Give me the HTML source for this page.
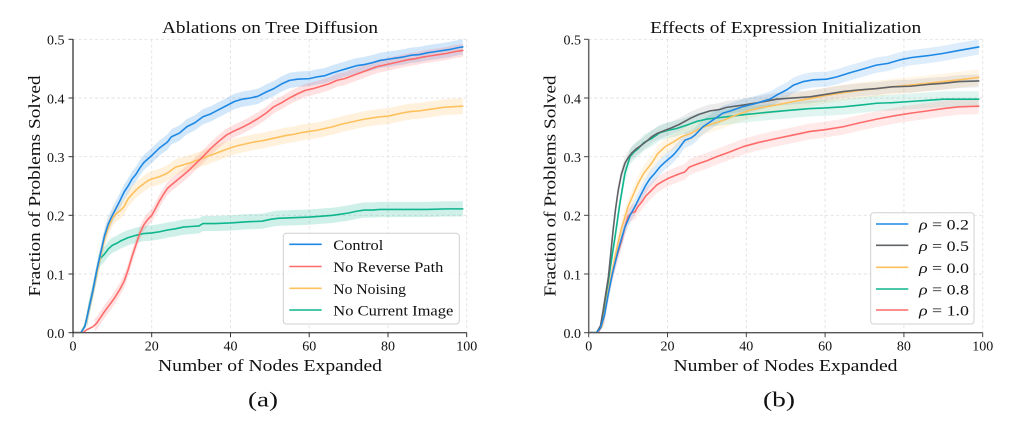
<!DOCTYPE html>
<html><head><meta charset="utf-8"><style>
html,body{margin:0;padding:0;background:#fff;}
svg{display:block;}
text{font-family:"Liberation Serif",serif;fill:#111;}
.tk{font-size:14px;}
.grid{stroke:#e2e2e2;stroke-width:0.9;stroke-dasharray:3 2.5;fill:none;}
.ln{fill:none;stroke-width:1.6;stroke-linejoin:round;stroke-linecap:round;}
.bd{fill:none;stroke-linejoin:round;stroke-linecap:butt;}
</style></head><body>
<svg width="1020" height="426" viewBox="0 0 1020 426" xmlns="http://www.w3.org/2000/svg">
<defs>
<clipPath id="cp" clipPathUnits="userSpaceOnUse"><rect x="0" y="0" width="100" height="0.5"/></clipPath>
</defs>

<!-- ===== LEFT CHART ===== -->
<g>
<line class="grid" x1="151.7" y1="39.3" x2="151.7" y2="332.7"/>
<line class="grid" x1="230.5" y1="39.3" x2="230.5" y2="332.7"/>
<line class="grid" x1="309.2" y1="39.3" x2="309.2" y2="332.7"/>
<line class="grid" x1="388" y1="39.3" x2="388" y2="332.7"/>
<line class="grid" x1="466.7" y1="39.3" x2="466.7" y2="332.7"/>
<line class="grid" x1="73" y1="274" x2="466.7" y2="274"/>
<line class="grid" x1="73" y1="215.3" x2="466.7" y2="215.3"/>
<line class="grid" x1="73" y1="156.7" x2="466.7" y2="156.7"/>
<line class="grid" x1="73" y1="98" x2="466.7" y2="98"/>
<line class="grid" x1="73" y1="39.3" x2="466.7" y2="39.3"/>
</g>
<g transform="translate(73,332.7) scale(3.937,-586.8)">
<g clip-path="url(#cp)">
<polyline class="bd" stroke="#1E88E5" stroke-opacity="0.2" stroke-width="0.026" points="3.5,0.02 4,0.04 5,0.07 6,0.105 7,0.135 8,0.165 9,0.186 10,0.2 11,0.213 12,0.226 13,0.24 14,0.25 15,0.262 16,0.27 17,0.281 18,0.29 19,0.296 20,0.302 22,0.315 24,0.325 25,0.334 27,0.34 28.9,0.351 31,0.358 33,0.368 35,0.373 37,0.38 39,0.387 41,0.394 43,0.398 45,0.4 47,0.403 49,0.41 51,0.416 53,0.424 55,0.43 57,0.432 60,0.433 62,0.436 64,0.438 66,0.443 68,0.447 70,0.451 72,0.455 74,0.457 76,0.46 78,0.464 80,0.466 82,0.468 84,0.47 86,0.473 88,0.474 90,0.477 92,0.479 94,0.481 96,0.483 98,0.486 99,0.487"/>
<polyline class="bd" stroke="#FF6B6B" stroke-opacity="0.2" stroke-width="0.022" points="5.5,0.013 6,0.016 7,0.026 8,0.036 9,0.045 10,0.054 11,0.064 12,0.075 13,0.088 14,0.107 15,0.13 16,0.15 17,0.17 18,0.184 19,0.193 20,0.2 21,0.212 22,0.225 23,0.236 24,0.246 25,0.252 27,0.263 29,0.274 31,0.287 33,0.3 35,0.314 37,0.326 39,0.337 41,0.344 43,0.35 45,0.357 47,0.365 49,0.374 51,0.385 53,0.392 55,0.4 57,0.407 59,0.413 61,0.416 63,0.42 65,0.424 67,0.43 69,0.433 71,0.438 73,0.443 75,0.448 77,0.453 79,0.456 81,0.459 83,0.462 85,0.465 87,0.467 89,0.47 91,0.472 93,0.474 95,0.476 97,0.479 99,0.481"/>
<polyline class="bd" stroke="#FFC15E" stroke-opacity="0.22" stroke-width="0.027" points="3.5,0.02 4,0.038 5,0.068 6,0.1 7,0.13 8,0.16 9,0.18 10,0.195 11,0.203 12,0.208 13,0.215 14,0.228 15,0.236 16,0.243 17,0.249 18,0.254 19,0.259 20,0.262 22,0.266 24,0.272 26,0.282 28,0.286 30,0.29 32,0.295 34,0.3 36,0.305 38,0.31 40,0.315 42,0.319 44,0.322 46,0.325 48,0.327 50,0.33 52,0.333 54,0.336 56,0.338 58,0.341 60,0.343 62,0.345 64,0.348 66,0.351 68,0.355 70,0.358 72,0.361 74,0.364 76,0.366 78,0.368 80,0.369 82,0.372 84,0.375 86,0.377 88,0.378 90,0.38 92,0.382 94,0.384 96,0.385 99,0.386"/>
<polyline class="bd" stroke="#0FB58D" stroke-opacity="0.2" stroke-width="0.026" points="3.5,0.022 4,0.04 5,0.07 6,0.1 6.5,0.12 7,0.127 8,0.134 9,0.143 10,0.149 11,0.152 12,0.156 13,0.159 14,0.162 15,0.164 16,0.166 18,0.169 20,0.17 22,0.172 24,0.175 26,0.177 28,0.18 30,0.181 32,0.182 33,0.186 36,0.186 40,0.187 44,0.189 48,0.19 50,0.193 52,0.195 56,0.196 60,0.197 64,0.199 66,0.2 68,0.202 70,0.204 72,0.207 74,0.209 76,0.209 78,0.21 80,0.21 85,0.21 90,0.21 95,0.211 99,0.211"/>

<polyline class="ln" vector-effect="non-scaling-stroke" stroke="#0FB58D" points="0,0 2,0 3,0.012 4,0.04 5,0.07 6,0.1 6.5,0.12 7,0.127 8,0.134 9,0.143 10,0.149 11,0.152 12,0.156 13,0.159 14,0.162 15,0.164 16,0.166 18,0.169 20,0.17 22,0.172 24,0.175 26,0.177 28,0.18 30,0.181 32,0.182 33,0.186 36,0.186 40,0.187 44,0.189 48,0.19 50,0.193 52,0.195 56,0.196 60,0.197 64,0.199 66,0.2 68,0.202 70,0.204 72,0.207 74,0.209 76,0.209 78,0.21 80,0.21 85,0.21 90,0.21 95,0.211 99,0.211"/>
<polyline class="ln" vector-effect="non-scaling-stroke" stroke="#FFC15E" points="0,0 2,0 3,0.01 4,0.038 5,0.068 6,0.1 7,0.13 8,0.16 9,0.18 10,0.195 11,0.203 12,0.208 13,0.215 14,0.228 15,0.236 16,0.243 17,0.249 18,0.254 19,0.259 20,0.262 22,0.266 24,0.272 26,0.282 28,0.286 30,0.29 32,0.295 34,0.3 36,0.305 38,0.31 40,0.315 42,0.319 44,0.322 46,0.325 48,0.327 50,0.33 52,0.333 54,0.336 56,0.338 58,0.341 60,0.343 62,0.345 64,0.348 66,0.351 68,0.355 70,0.358 72,0.361 74,0.364 76,0.366 78,0.368 80,0.369 82,0.372 84,0.375 86,0.377 88,0.378 90,0.38 92,0.382 94,0.384 96,0.385 99,0.386"/>
<polyline class="ln" vector-effect="non-scaling-stroke" stroke="#FF6B6B" points="0,0 2.5,0 3.5,0.005 5,0.01 6,0.016 7,0.026 8,0.036 9,0.045 10,0.054 11,0.064 12,0.075 13,0.088 14,0.107 15,0.13 16,0.15 17,0.17 18,0.184 19,0.193 20,0.2 21,0.212 22,0.225 23,0.236 24,0.246 25,0.252 27,0.263 29,0.274 31,0.287 33,0.3 35,0.314 37,0.326 39,0.337 41,0.344 43,0.35 45,0.357 47,0.365 49,0.374 51,0.385 53,0.392 55,0.4 57,0.407 59,0.413 61,0.416 63,0.42 65,0.424 67,0.43 69,0.433 71,0.438 73,0.443 75,0.448 77,0.453 79,0.456 81,0.459 83,0.462 85,0.465 87,0.467 89,0.47 91,0.472 93,0.474 95,0.476 97,0.479 99,0.481"/>
<polyline class="ln" vector-effect="non-scaling-stroke" stroke="#1E88E5" points="0,0 2,0 3,0.01 4,0.04 5,0.07 6,0.105 7,0.135 8,0.165 9,0.186 10,0.2 11,0.213 12,0.226 13,0.24 14,0.25 15,0.262 16,0.27 17,0.281 18,0.29 19,0.296 20,0.302 22,0.315 24,0.325 25,0.334 27,0.34 28.9,0.351 31,0.358 33,0.368 35,0.373 37,0.38 39,0.387 41,0.394 43,0.398 45,0.4 47,0.403 49,0.41 51,0.416 53,0.424 55,0.43 57,0.432 60,0.433 62,0.436 64,0.438 66,0.443 68,0.447 70,0.451 72,0.455 74,0.457 76,0.46 78,0.464 80,0.466 82,0.468 84,0.47 86,0.473 88,0.474 90,0.477 92,0.479 94,0.481 96,0.483 98,0.486 99,0.487"/>
</g>
</g>
<!-- left spines & ticks -->
<line x1="73" y1="332.7" x2="466.7" y2="332.7" stroke="#555" stroke-width="1.3"/>
<line x1="73" y1="39.3" x2="73" y2="333.3" stroke="#111" stroke-width="1.1"/>
<g stroke="#333" stroke-width="1">
<line x1="68.5" y1="332.7" x2="73" y2="332.7"/><line x1="68.5" y1="274" x2="73" y2="274"/><line x1="68.5" y1="215.3" x2="73" y2="215.3"/><line x1="68.5" y1="156.7" x2="73" y2="156.7"/><line x1="68.5" y1="98" x2="73" y2="98"/><line x1="68.5" y1="39.3" x2="73" y2="39.3"/>
<line x1="73" y1="332.7" x2="73" y2="337.2"/><line x1="151.7" y1="332.7" x2="151.7" y2="337.2"/><line x1="230.5" y1="332.7" x2="230.5" y2="337.2"/><line x1="309.2" y1="332.7" x2="309.2" y2="337.2"/><line x1="388" y1="332.7" x2="388" y2="337.2"/><line x1="466.7" y1="332.7" x2="466.7" y2="337.2"/>
</g>
<g class="tk" text-anchor="end">
<text x="64.5" y="338">0.0</text><text x="64.5" y="279.3">0.1</text><text x="64.5" y="220.6">0.2</text><text x="64.5" y="162">0.3</text><text x="64.5" y="103.3">0.4</text><text x="64.5" y="44.6">0.5</text>
</g>
<g class="tk" text-anchor="middle">
<text x="73" y="350.5">0</text><text x="151.7" y="350.5">20</text><text x="230.5" y="350.5">40</text><text x="309.2" y="350.5">60</text><text x="388" y="350.5">80</text><text x="466.7" y="350.5">100</text>
</g>
<text x="270" y="33" font-size="17" text-anchor="middle" textLength="216" lengthAdjust="spacingAndGlyphs">Ablations on Tree Diffusion</text>
<text x="270" y="371" font-size="17" text-anchor="middle" textLength="224" lengthAdjust="spacingAndGlyphs">Number of Nodes Expanded</text>
<text transform="translate(40,186) rotate(-90)" font-size="17" text-anchor="middle" textLength="221" lengthAdjust="spacingAndGlyphs">Fraction of Problems Solved</text>
<text x="263" y="406.5" font-size="21" text-anchor="middle" textLength="30" lengthAdjust="spacingAndGlyphs">(a)</text>
<!-- left legend -->
<rect x="283.3" y="233.3" width="176" height="90.7" rx="3" fill="#fff" fill-opacity="0.85" stroke="#d0d0d0" stroke-width="1"/>
<line x1="289.3" y1="244.3" x2="321.7" y2="244.3" stroke="#1E88E5" stroke-width="1.6"/>
<line x1="289.3" y1="266.5" x2="321.7" y2="266.5" stroke="#FF6B6B" stroke-width="1.6"/>
<line x1="289.3" y1="288.3" x2="321.7" y2="288.3" stroke="#FFC15E" stroke-width="1.6"/>
<line x1="289.3" y1="310" x2="321.7" y2="310" stroke="#0FB58D" stroke-width="1.6"/>
<g font-size="15">
<text x="333.3" y="250" textLength="50" lengthAdjust="spacingAndGlyphs">Control</text>
<text x="333.3" y="272" textLength="110" lengthAdjust="spacingAndGlyphs">No Reverse Path</text>
<text x="333.3" y="293.8" textLength="72.7" lengthAdjust="spacingAndGlyphs">No Noising</text>
<text x="333.3" y="315.5" textLength="120" lengthAdjust="spacingAndGlyphs">No Current Image</text>
</g>

<!-- ===== RIGHT CHART ===== -->
<g>
<line class="grid" x1="667.5" y1="39.3" x2="667.5" y2="332.7"/>
<line class="grid" x1="746.3" y1="39.3" x2="746.3" y2="332.7"/>
<line class="grid" x1="825.1" y1="39.3" x2="825.1" y2="332.7"/>
<line class="grid" x1="903.9" y1="39.3" x2="903.9" y2="332.7"/>
<line class="grid" x1="982.7" y1="39.3" x2="982.7" y2="332.7"/>
<line class="grid" x1="588.7" y1="274" x2="982.7" y2="274"/>
<line class="grid" x1="588.7" y1="215.3" x2="982.7" y2="215.3"/>
<line class="grid" x1="588.7" y1="156.7" x2="982.7" y2="156.7"/>
<line class="grid" x1="588.7" y1="98" x2="982.7" y2="98"/>
<line class="grid" x1="588.7" y1="39.3" x2="982.7" y2="39.3"/>
</g>
<g transform="translate(588.7,332.7) scale(3.94,-586.8)">
<g clip-path="url(#cp)">
<polyline class="bd" stroke="#1E88E5" stroke-opacity="0.15" stroke-width="0.026" points="3.5,0.018 4,0.03 5,0.067 6,0.1 7.5,0.141 9.2,0.18 10.5,0.2 11.75,0.215 13,0.232 14.3,0.249 15.5,0.262 16.8,0.272 18,0.282 19.4,0.291 21,0.3 21.9,0.306 23,0.315 24.4,0.328 26,0.332 27,0.337 29,0.351 31,0.36 34,0.374 36,0.378 39,0.385 42,0.39 44,0.394 46,0.398 48,0.406 50.3,0.414 52,0.422 54.5,0.428 57,0.431 60.4,0.432 63,0.436 66.3,0.443 70,0.45 73,0.456 76,0.459 79,0.465 82,0.469 86,0.472 90,0.476 94,0.481 99,0.487"/>
<polyline class="bd" stroke="#FFC15E" stroke-opacity="0.15" stroke-width="0.027" points="3.8,0.025 4.2,0.04 5,0.073 6,0.105 6.7,0.13 7.5,0.155 8.4,0.18 10,0.215 11.3,0.235 12.6,0.255 14,0.272 16,0.289 17.5,0.305 19.4,0.317 21.5,0.325 23.6,0.334 26,0.34 28.3,0.348 31,0.355 34.2,0.362 37,0.37 40.9,0.379 44,0.384 47.7,0.388 52,0.394 56.2,0.399 60,0.404 64.6,0.409 69,0.413 73.1,0.416 77,0.419 81.6,0.422 86,0.425 90,0.428 94,0.431 99,0.435"/>
<polyline class="bd" stroke="#5F6368" stroke-opacity="0.12" stroke-width="0.022" points="3.3,0.022 3.7,0.039 4.3,0.065 5,0.095 5.6,0.135 6.2,0.175 6.8,0.21 7.5,0.243 8.3,0.27 9.2,0.289 10,0.298 10.9,0.306 12,0.313 13.5,0.32 15,0.328 16,0.334 17.5,0.34 19.4,0.345 21,0.349 23,0.355 25.7,0.365 28,0.372 30.8,0.378 33,0.38 35,0.384 39.2,0.388 43,0.392 47.7,0.398 52,0.4 56.2,0.402 60,0.406 64.6,0.411 69,0.414 73.1,0.416 77,0.419 81.6,0.42 86,0.423 90,0.425 94,0.428 99,0.429"/>
<polyline class="bd" stroke="#0FB58D" stroke-opacity="0.13" stroke-width="0.027" points="3.5,0.028 4,0.045 5,0.088 5.8,0.125 6.7,0.164 7.9,0.22 9.2,0.272 10.5,0.3 11.5,0.308 12.6,0.314 14,0.324 16,0.331 18.1,0.341 20.2,0.345 22.3,0.348 25,0.354 27.4,0.36 30,0.364 35,0.368 40,0.372 46,0.376 51,0.379 56.2,0.382 60,0.383 64.6,0.385 69,0.388 73.1,0.391 77,0.392 81.6,0.394 86,0.396 90,0.398 95,0.398 99,0.398"/>
<polyline class="bd" stroke="#FF6B6B" stroke-opacity="0.15" stroke-width="0.027" points="3.8,0.025 4.2,0.04 5,0.07 5.8,0.095 7,0.127 8.4,0.158 9.2,0.18 10,0.198 10.8,0.204 11.75,0.206 12.5,0.215 13.5,0.223 14.5,0.233 16,0.243 17.3,0.252 18.8,0.258 20.2,0.263 22.3,0.269 24.4,0.274 25.5,0.282 27.4,0.287 30,0.293 32.5,0.3 35,0.306 39.2,0.317 43,0.324 47.7,0.331 52,0.337 56.2,0.343 60,0.346 64.6,0.351 69,0.358 73.1,0.364 77,0.369 81.6,0.374 86,0.378 90,0.382 94,0.385 99,0.386"/>

<polyline class="ln" vector-effect="non-scaling-stroke" stroke="#FF6B6B" points="0,0 2.3,0 3.3,0.01 4.2,0.04 5,0.07 5.8,0.095 7,0.127 8.4,0.158 9.2,0.18 10,0.198 10.8,0.204 11.75,0.206 12.5,0.215 13.5,0.223 14.5,0.233 16,0.243 17.3,0.252 18.8,0.258 20.2,0.263 22.3,0.269 24.4,0.274 25.5,0.282 27.4,0.287 30,0.293 32.5,0.3 35,0.306 39.2,0.317 43,0.324 47.7,0.331 52,0.337 56.2,0.343 60,0.346 64.6,0.351 69,0.358 73.1,0.364 77,0.369 81.6,0.374 86,0.378 90,0.382 94,0.385 99,0.386"/>
<polyline class="ln" vector-effect="non-scaling-stroke" stroke="#0FB58D" points="0,0 2,0 3,0.01 4,0.045 5,0.088 5.8,0.125 6.7,0.164 7.9,0.22 9.2,0.272 10.5,0.3 11.5,0.308 12.6,0.314 14,0.324 16,0.331 18.1,0.341 20.2,0.345 22.3,0.348 25,0.354 27.4,0.36 30,0.364 35,0.368 40,0.372 46,0.376 51,0.379 56.2,0.382 60,0.383 64.6,0.385 69,0.388 73.1,0.391 77,0.392 81.6,0.394 86,0.396 90,0.398 95,0.398 99,0.398"/>
<polyline class="ln" vector-effect="non-scaling-stroke" stroke="#FFC15E" points="0,0 2,0 3.3,0.01 4.2,0.04 5,0.073 6,0.105 6.7,0.13 7.5,0.155 8.4,0.18 10,0.215 11.3,0.235 12.6,0.255 14,0.272 16,0.289 17.5,0.305 19.4,0.317 21.5,0.325 23.6,0.334 26,0.34 28.3,0.348 31,0.355 34.2,0.362 37,0.37 40.9,0.379 44,0.384 47.7,0.388 52,0.394 56.2,0.399 60,0.404 64.6,0.409 69,0.413 73.1,0.416 77,0.419 81.6,0.422 86,0.425 90,0.428 94,0.431 99,0.435"/>
<polyline class="ln" vector-effect="non-scaling-stroke" stroke="#5F6368" points="0,0 2,0 3,0.012 3.7,0.039 4.3,0.065 5,0.095 5.6,0.135 6.2,0.175 6.8,0.21 7.5,0.243 8.3,0.27 9.2,0.289 10,0.298 10.9,0.306 12,0.313 13.5,0.32 15,0.328 16,0.334 17.5,0.34 19.4,0.345 21,0.349 23,0.355 25.7,0.365 28,0.372 30.8,0.378 33,0.38 35,0.384 39.2,0.388 43,0.392 47.7,0.398 52,0.4 56.2,0.402 60,0.406 64.6,0.411 69,0.414 73.1,0.416 77,0.419 81.6,0.42 86,0.423 90,0.425 94,0.428 99,0.429"/>
<polyline class="ln" vector-effect="non-scaling-stroke" stroke="#1E88E5" points="0,0 2,0 3,0.008 4,0.03 5,0.067 6,0.1 7.5,0.141 9.2,0.18 10.5,0.2 11.75,0.215 13,0.232 14.3,0.249 15.5,0.262 16.8,0.272 18,0.282 19.4,0.291 21,0.3 21.9,0.306 23,0.315 24.4,0.328 26,0.332 27,0.337 29,0.351 31,0.36 34,0.374 36,0.378 39,0.385 42,0.39 44,0.394 46,0.398 48,0.406 50.3,0.414 52,0.422 54.5,0.428 57,0.431 60.4,0.432 63,0.436 66.3,0.443 70,0.45 73,0.456 76,0.459 79,0.465 82,0.469 86,0.472 90,0.476 94,0.481 99,0.487"/>
</g>
</g>
<!-- right spines & ticks -->
<line x1="588.7" y1="332.7" x2="982.7" y2="332.7" stroke="#555" stroke-width="1.3"/>
<line x1="588.7" y1="39.3" x2="588.7" y2="333.3" stroke="#666" stroke-width="1.5"/>
<g stroke="#444" stroke-width="1">
<line x1="584" y1="332.7" x2="588.7" y2="332.7"/><line x1="584" y1="274" x2="588.7" y2="274"/><line x1="584" y1="215.3" x2="588.7" y2="215.3"/><line x1="584" y1="156.7" x2="588.7" y2="156.7"/><line x1="584" y1="98" x2="588.7" y2="98"/><line x1="584" y1="39.3" x2="588.7" y2="39.3"/>
<line x1="588.7" y1="332.7" x2="588.7" y2="337.2"/><line x1="667.5" y1="332.7" x2="667.5" y2="337.2"/><line x1="746.3" y1="332.7" x2="746.3" y2="337.2"/><line x1="825.1" y1="332.7" x2="825.1" y2="337.2"/><line x1="903.9" y1="332.7" x2="903.9" y2="337.2"/><line x1="982.7" y1="332.7" x2="982.7" y2="337.2"/>
</g>
<g class="tk" text-anchor="end">
<text x="581" y="338">0.0</text><text x="581" y="279.3">0.1</text><text x="581" y="220.6">0.2</text><text x="581" y="162">0.3</text><text x="581" y="103.3">0.4</text><text x="581" y="44.6">0.5</text>
</g>
<g class="tk" text-anchor="middle">
<text x="588.7" y="350.5">0</text><text x="667.5" y="350.5">20</text><text x="746.3" y="350.5">40</text><text x="825.1" y="350.5">60</text><text x="903.9" y="350.5">80</text><text x="982.7" y="350.5">100</text>
</g>
<text x="785.7" y="33" font-size="17" text-anchor="middle" textLength="271" lengthAdjust="spacingAndGlyphs">Effects of Expression Initialization</text>
<text x="785.5" y="371" font-size="17" text-anchor="middle" textLength="224" lengthAdjust="spacingAndGlyphs">Number of Nodes Expanded</text>
<text transform="translate(555.5,186) rotate(-90)" font-size="17" text-anchor="middle" textLength="221" lengthAdjust="spacingAndGlyphs">Fraction of Problems Solved</text>
<text x="779" y="406.5" font-size="21" text-anchor="middle" textLength="32" lengthAdjust="spacingAndGlyphs">(b)</text>
<!-- right legend -->
<rect x="870.7" y="212.7" width="103.3" height="111.3" rx="3" fill="#fff" fill-opacity="0.85" stroke="#d0d0d0" stroke-width="1"/>
<line x1="876" y1="224" x2="908.3" y2="224" stroke="#1E88E5" stroke-width="1.6"/>
<line x1="876" y1="245.3" x2="908.3" y2="245.3" stroke="#5F6368" stroke-width="1.6"/>
<line x1="876" y1="267.3" x2="908.3" y2="267.3" stroke="#FFC15E" stroke-width="1.6"/>
<line x1="876" y1="289" x2="908.3" y2="289" stroke="#0FB58D" stroke-width="1.6"/>
<line x1="876" y1="310" x2="908.3" y2="310" stroke="#FF6B6B" stroke-width="1.6"/>
<g font-size="15">
<text x="919" y="229.5" textLength="50" lengthAdjust="spacingAndGlyphs"><tspan font-style="italic">ρ</tspan> = 0.2</text>
<text x="919" y="250.8" textLength="50" lengthAdjust="spacingAndGlyphs"><tspan font-style="italic">ρ</tspan> = 0.5</text>
<text x="919" y="272.8" textLength="50" lengthAdjust="spacingAndGlyphs"><tspan font-style="italic">ρ</tspan> = 0.0</text>
<text x="919" y="294.5" textLength="50" lengthAdjust="spacingAndGlyphs"><tspan font-style="italic">ρ</tspan> = 0.8</text>
<text x="919" y="315.5" textLength="50" lengthAdjust="spacingAndGlyphs"><tspan font-style="italic">ρ</tspan> = 1.0</text>
</g>
</svg>
</body></html>
